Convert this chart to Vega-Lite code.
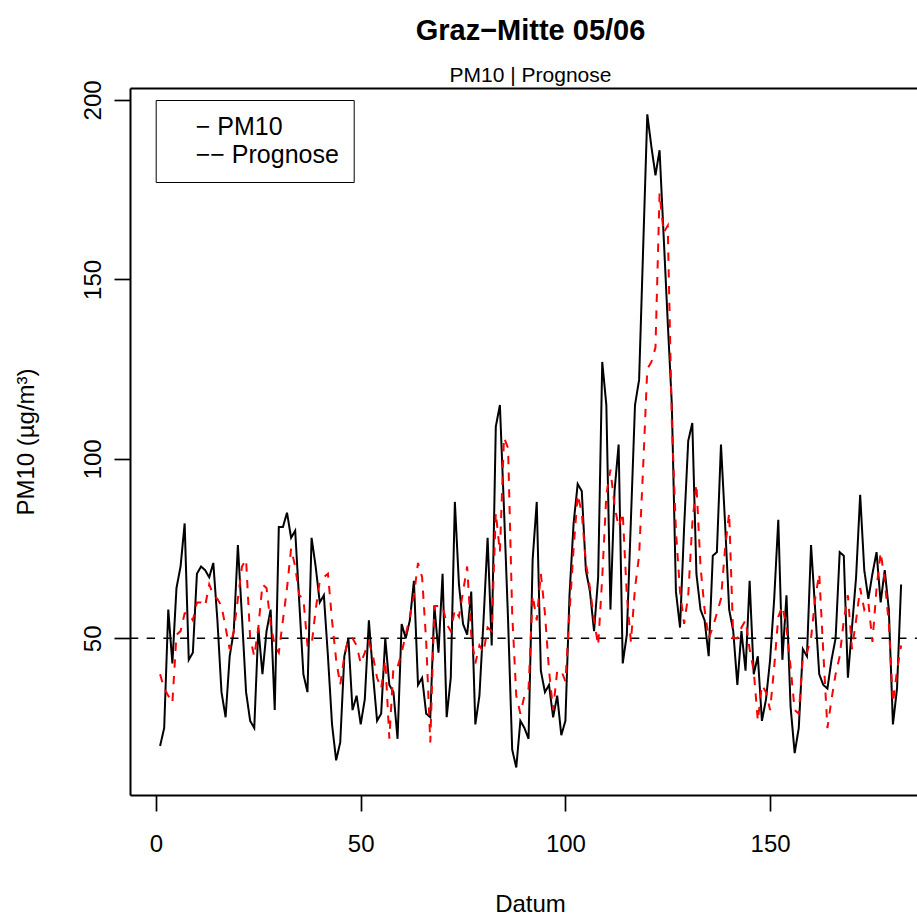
{
  "$schema": "https://vega.github.io/schema/vega-lite/v6.json",
  "width": 787,
  "height": 707,
  "autosize": {"type": "none"},
  "padding": {"left": 130, "top": 88, "right": 0, "bottom": 120},
  "background": "white",
  "title": {
    "text": "Graz−Mitte 05/06",
    "subtitle": "PM10 | Prognose",
    "anchor": "middle",
    "frame": "group",
    "font": "Liberation Sans",
    "fontSize": 29,
    "fontWeight": "bold",
    "color": "black",
    "subtitleFont": "Liberation Sans",
    "subtitleFontSize": 21,
    "subtitleColor": "black",
    "subtitlePadding": 19,
    "offset": -6,
    "dx": 7
  },
  "data": {"values": [
    {"day":1,"PM10":20,"Prognose":40},{"day":2,"PM10":25,"Prognose":36},{"day":3,"PM10":58,"Prognose":34},{"day":4,"PM10":43,"Prognose":32},{"day":5,"PM10":64,"Prognose":51},
    {"day":6,"PM10":70,"Prognose":52},{"day":7,"PM10":82,"Prognose":57},{"day":8,"PM10":44,"Prognose":57},{"day":9,"PM10":46,"Prognose":55},{"day":10,"PM10":68,"Prognose":60},
    {"day":11,"PM10":70,"Prognose":60},{"day":12,"PM10":69,"Prognose":59},{"day":13,"PM10":67,"Prognose":65},{"day":14,"PM10":71,"Prognose":62},{"day":15,"PM10":55,"Prognose":61},
    {"day":16,"PM10":35,"Prognose":59},{"day":17,"PM10":28,"Prognose":53},{"day":18,"PM10":45,"Prognose":47},{"day":19,"PM10":52,"Prognose":52},{"day":20,"PM10":76,"Prognose":61},
    {"day":21,"PM10":56,"Prognose":70},{"day":22,"PM10":35,"Prognose":72},{"day":23,"PM10":27,"Prognose":50},{"day":24,"PM10":25,"Prognose":45},{"day":25,"PM10":53,"Prognose":53},
    {"day":26,"PM10":40,"Prognose":65},{"day":27,"PM10":52,"Prognose":64},{"day":28,"PM10":58,"Prognose":54},{"day":29,"PM10":30,"Prognose":48},{"day":30,"PM10":81,"Prognose":46},
    {"day":31,"PM10":81,"Prognose":55},{"day":32,"PM10":85,"Prognose":64},{"day":33,"PM10":78,"Prognose":75},{"day":34,"PM10":80,"Prognose":70},{"day":35,"PM10":60,"Prognose":62},
    {"day":36,"PM10":40,"Prognose":61},{"day":37,"PM10":35,"Prognose":48},{"day":38,"PM10":78,"Prognose":48},{"day":39,"PM10":70,"Prognose":58},{"day":40,"PM10":60,"Prognose":66},
    {"day":41,"PM10":62,"Prognose":67},{"day":42,"PM10":45,"Prognose":68},{"day":43,"PM10":26,"Prognose":55},{"day":44,"PM10":16,"Prognose":44},{"day":45,"PM10":21,"Prognose":37},
    {"day":46,"PM10":45,"Prognose":45},{"day":47,"PM10":50,"Prognose":50},{"day":48,"PM10":30,"Prognose":50},{"day":49,"PM10":34,"Prognose":48},{"day":50,"PM10":26,"Prognose":43},
    {"day":51,"PM10":33,"Prognose":46},{"day":52,"PM10":55,"Prognose":49},{"day":53,"PM10":40,"Prognose":45},{"day":54,"PM10":27,"Prognose":39},{"day":55,"PM10":29,"Prognose":36},
    {"day":56,"PM10":50,"Prognose":44},{"day":57,"PM10":37,"Prognose":22},{"day":58,"PM10":35,"Prognose":42},{"day":59,"PM10":22,"Prognose":42},{"day":60,"PM10":54,"Prognose":46},
    {"day":61,"PM10":50,"Prognose":51},{"day":62,"PM10":55,"Prognose":56},{"day":63,"PM10":66,"Prognose":62},{"day":64,"PM10":37,"Prognose":71},{"day":65,"PM10":39,"Prognose":67},
    {"day":66,"PM10":29,"Prognose":49},{"day":67,"PM10":28,"Prognose":21},{"day":68,"PM10":59,"Prognose":59},{"day":69,"PM10":46,"Prognose":59},{"day":70,"PM10":68,"Prognose":59},
    {"day":71,"PM10":28,"Prognose":54},{"day":72,"PM10":39,"Prognose":52},{"day":73,"PM10":88,"Prognose":58},{"day":74,"PM10":65,"Prognose":56},{"day":75,"PM10":54,"Prognose":63},
    {"day":76,"PM10":51,"Prognose":70},{"day":77,"PM10":63,"Prognose":51},{"day":78,"PM10":26,"Prognose":43},{"day":79,"PM10":34,"Prognose":48},{"day":80,"PM10":55,"Prognose":46},
    {"day":81,"PM10":78,"Prognose":53},{"day":82,"PM10":48,"Prognose":52},{"day":83,"PM10":109,"Prognose":85},{"day":84,"PM10":115,"Prognose":74},{"day":85,"PM10":86,"Prognose":106},
    {"day":86,"PM10":55,"Prognose":103},{"day":87,"PM10":19,"Prognose":57},{"day":88,"PM10":14,"Prognose":34},{"day":89,"PM10":27,"Prognose":29},{"day":90,"PM10":25,"Prognose":34},
    {"day":91,"PM10":22,"Prognose":36},{"day":92,"PM10":72,"Prognose":62},{"day":93,"PM10":88,"Prognose":55},{"day":94,"PM10":41,"Prognose":68},{"day":95,"PM10":35,"Prognose":57},
    {"day":96,"PM10":37,"Prognose":41},{"day":97,"PM10":28,"Prognose":30},{"day":98,"PM10":34,"Prognose":41},{"day":99,"PM10":23,"Prognose":41},{"day":100,"PM10":27,"Prognose":38},
    {"day":101,"PM10":62,"Prognose":57},{"day":102,"PM10":82,"Prognose":75},{"day":103,"PM10":93,"Prognose":90},{"day":104,"PM10":91,"Prognose":85},{"day":105,"PM10":69,"Prognose":71},
    {"day":106,"PM10":63,"Prognose":64},{"day":107,"PM10":52,"Prognose":55},{"day":108,"PM10":67,"Prognose":48},{"day":109,"PM10":127,"Prognose":67},{"day":110,"PM10":115,"Prognose":90},
    {"day":111,"PM10":58,"Prognose":97},{"day":112,"PM10":91,"Prognose":87},{"day":113,"PM10":104,"Prognose":81},{"day":114,"PM10":43,"Prognose":85},{"day":115,"PM10":51,"Prognose":62},
    {"day":116,"PM10":83,"Prognose":49},{"day":117,"PM10":115,"Prognose":64},{"day":118,"PM10":122,"Prognose":73},{"day":119,"PM10":159,"Prognose":98},{"day":120,"PM10":196,"Prognose":125},
    {"day":121,"PM10":187,"Prognose":127},{"day":122,"PM10":179,"Prognose":131},{"day":123,"PM10":186,"Prognose":174},{"day":124,"PM10":162,"Prognose":163},{"day":125,"PM10":138,"Prognose":165},
    {"day":126,"PM10":115,"Prognose":110},{"day":127,"PM10":63,"Prognose":80},{"day":128,"PM10":53,"Prognose":63},{"day":129,"PM10":81,"Prognose":54},{"day":130,"PM10":105,"Prognose":62},
    {"day":131,"PM10":110,"Prognose":82},{"day":132,"PM10":68,"Prognose":93},{"day":133,"PM10":58,"Prognose":70},{"day":134,"PM10":55,"Prognose":58},{"day":135,"PM10":45,"Prognose":50},
    {"day":136,"PM10":73,"Prognose":53},{"day":137,"PM10":74,"Prognose":57},{"day":138,"PM10":104,"Prognose":61},{"day":139,"PM10":82,"Prognose":75},{"day":140,"PM10":58,"Prognose":85},
    {"day":141,"PM10":52,"Prognose":50},{"day":142,"PM10":37,"Prognose":50},{"day":143,"PM10":52,"Prognose":53},{"day":144,"PM10":41,"Prognose":55},{"day":145,"PM10":66,"Prognose":47},
    {"day":146,"PM10":40,"Prognose":41},{"day":147,"PM10":45,"Prognose":27},{"day":148,"PM10":27,"Prognose":37},{"day":149,"PM10":33,"Prognose":35},{"day":150,"PM10":44,"Prognose":30},
    {"day":151,"PM10":61,"Prognose":42},{"day":152,"PM10":83,"Prognose":56},{"day":153,"PM10":44,"Prognose":59},{"day":154,"PM10":62,"Prognose":53},{"day":155,"PM10":31,"Prognose":42},
    {"day":156,"PM10":18,"Prognose":30},{"day":157,"PM10":25,"Prognose":29},{"day":158,"PM10":47,"Prognose":45},{"day":159,"PM10":45,"Prognose":46},{"day":160,"PM10":76,"Prognose":50},
    {"day":161,"PM10":58,"Prognose":61},{"day":162,"PM10":40,"Prognose":68},{"day":163,"PM10":37,"Prognose":46},{"day":164,"PM10":36,"Prognose":25},{"day":165,"PM10":44,"Prognose":33},
    {"day":166,"PM10":50,"Prognose":40},{"day":167,"PM10":74,"Prognose":45},{"day":168,"PM10":73,"Prognose":55},{"day":169,"PM10":39,"Prognose":62},{"day":170,"PM10":53,"Prognose":47},
    {"day":171,"PM10":67,"Prognose":55},{"day":172,"PM10":90,"Prognose":64},{"day":173,"PM10":69,"Prognose":58},{"day":174,"PM10":61,"Prognose":60},{"day":175,"PM10":68,"Prognose":49},
    {"day":176,"PM10":74,"Prognose":64},{"day":177,"PM10":60,"Prognose":74},{"day":178,"PM10":69,"Prognose":66},{"day":179,"PM10":58,"Prognose":54},{"day":180,"PM10":26,"Prognose":32},
    {"day":181,"PM10":36,"Prognose":41},{"day":182,"PM10":65,"Prognose":48}
  ]},
  "layer": [
    {
      "data": {"values": [{"limit": 50}]},
      "mark": {"type": "rule", "color": "black", "strokeWidth": 1.5, "strokeDash": [8.3, 8.4]},
      "encoding": {
        "x": {"datum": -6.35, "type": "quantitative", "scale": {"domain": [-6.35, 185.88], "nice": false, "zero": false},
              "axis": {"orient": "top", "labels": false, "ticks": false, "title": null, "domain": true, "grid": false}},
        "x2": {"datum": 185.88},
        "y": {"field": "limit", "type": "quantitative", "title": "PM10 (µg/m³)",
              "scale": {"domain": [6.34, 203.33], "nice": false, "zero": false}}
      }
    },
    {
      "transform": [{"fold": ["PM10", "Prognose"], "as": ["series", "value"]}],
      "mark": {"type": "line", "strokeWidth": 2},
      "encoding": {
        "x": {"field": "day", "type": "quantitative",
              "scale": {"domain": [-6.35, 185.88], "nice": false, "zero": false},
              "axis": {"orient": "bottom", "values": [0, 50, 100, 150], "labelPadding": 21.5, "title": "Datum",
                       "titleX": 400, "titleY": 116, "titleBaseline": "alphabetic", "titleAlign": "center",
                       "labelFlush": false, "labelOverlap": false}},
        "y": {"field": "value", "type": "quantitative", "title": "PM10 (µg/m³)",
              "scale": {"domain": [6.34, 203.33], "nice": false, "zero": false},
              "axis": {"values": [50, 100, 150, 200], "labelAngle": 270, "labelAlign": "center", "labelBaseline": "alphabetic",
                       "labelPadding": 14, "titleX": -97, "titleY": 353.5, "titleAngle": 270, "titleAlign": "center",
                       "titleBaseline": "alphabetic", "labelOverlap": false}},
        "color": {"field": "series", "type": "nominal",
                  "scale": {"domain": ["PM10", "Prognose"], "range": ["#000000", "#ff0000"]},
                  "legend": {"orient": "none", "legendX": 25.7, "legendY": 12, "title": null,
                             "strokeColor": "black", "padding": 14, "labelFont": "Liberation Sans",
                             "labelFontSize": 25, "labelColor": "black", "labelOffset": 1, "rowPadding": 2.5,
                             "symbolOpacity": 0, "symbolSize": 0, "symbolStrokeWidth": 0,
                             "labelExpr": "datum.label == 'PM10' ? '− PM10' : '−− Prognose'"}},
        "strokeDash": {"field": "series", "type": "nominal",
                       "scale": {"domain": ["PM10", "Prognose"], "range": [[1, 0], [8.3, 8.4]]},
                       "legend": null}
      }
    }
  ],
  "resolve": {"axis": {"x": "independent"}},
  "config": {
    "view": {"stroke": null},
    "font": "Liberation Sans",
    "axis": {
      "labelFont": "Liberation Sans", "labelFontSize": 24, "labelColor": "black",
      "titleFont": "Liberation Sans", "titleFontSize": 24, "titleColor": "black", "titleFontWeight": "normal",
      "tickColor": "black", "tickWidth": 1.7, "tickSize": 16,
      "domainColor": "black", "domainWidth": 2, "grid": false
    }
  }
}
